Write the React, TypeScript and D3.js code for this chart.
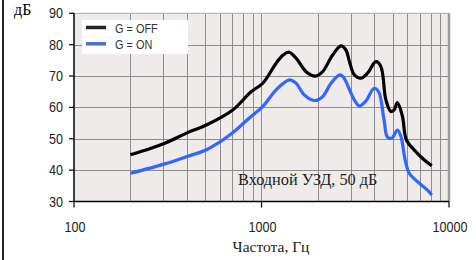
import React, { useRef, useEffect } from 'react';
import * as d3 from 'd3';

// frequencies (Hz) and levels (dB)
const offFreq = [200, 305, 398, 508, 703, 880, 1016, 1197, 1300, 1397, 1529, 1729, 1938, 2118, 2395, 2654, 2821, 2939, 3124, 3390, 3677, 4074, 4334, 4606, 4897, 5100, 5309, 5646, 5931, 6650, 7361, 8090];
const offDb = [44.9, 48.6, 51.8, 54.4, 59.2, 65.0, 67.7, 74.1, 76.6, 77.6, 75.7, 71.4, 70.0, 71.4, 76.7, 79.6, 78.3, 74.8, 70.4, 69.3, 70.9, 74.6, 73.0, 62.4, 58.7, 59.2, 61.5, 57.1, 49.6, 45.9, 43.3, 41.4];

const onFreq = [200, 305, 398, 508, 677, 861, 1016, 1197, 1409, 1529, 1690, 1916, 2118, 2348, 2622, 2760, 2939, 3124, 3328, 3593, 3987, 4214, 4505, 4694, 4953, 5309, 5542, 5836, 6140, 6926, 7656, 8090];
const onDb = [39.0, 42.0, 44.3, 46.5, 51.2, 56.6, 60.3, 65.6, 68.8, 67.7, 64.0, 62.2, 63.4, 67.7, 70.4, 69.3, 65.8, 62.4, 60.5, 61.9, 66.1, 65.0, 56.0, 50.5, 50.2, 52.8, 50.7, 43.3, 39.0, 35.9, 33.7, 32.1];

const seriesNames = ['G = OFF', 'G = ON'];
const yTicks = [30, 40, 50, 60, 70, 80, 90];
const xTicks = [100, 1000, 10000];

const App = () => {
  const svgRef = useRef(null);

  useEffect(() => {
    const width = 476;
    const height = 260;
    const left = 74, right = 449, top = 13.3, bottom = 201.5;
    const sans = '"Liberation Sans", Arial, sans-serif';
    const serif = '"Liberation Serif", "Times New Roman", serif';
    const squeeze = 0.84; // fake a narrow face

    const svg = d3.select(svgRef.current);
    svg.selectAll('*').remove();
    svg.attr('width', width).attr('height', height);

    svg.append('rect').attr('width', width).attr('height', height).attr('fill', '#fff');

    // frame line on the left edge
    svg.append('line')
      .attr('x1', 3).attr('x2', 3).attr('y1', 0).attr('y2', height)
      .attr('stroke', '#222').attr('stroke-width', 2);

    const x = d3.scaleLog().domain([100, 10000]).range([left, right]);
    const y = d3.scaleLinear().domain([30, 90]).range([bottom, top]);

    // plot area
    svg.append('rect')
      .attr('x', left).attr('y', top)
      .attr('width', right - left).attr('height', bottom - top)
      .attr('fill', '#eeebea');

    // grid
    const minor = x.ticks().filter(v => v > 100 && v < 10000);
    svg.append('g').selectAll('line').data(minor).join('line')
      .attr('x1', d => Math.round(x(d)) + 0.5).attr('x2', d => Math.round(x(d)) + 0.5)
      .attr('y1', top).attr('y2', bottom)
      .attr('stroke', '#8c8c8c').attr('stroke-width', 1);
    svg.append('g').selectAll('line').data(yTicks.filter(v => v > 30 && v < 90)).join('line')
      .attr('x1', left).attr('x2', right)
      .attr('y1', d => Math.round(y(d)) + 0.5).attr('y2', d => Math.round(y(d)) + 0.5)
      .attr('stroke', '#8c8c8c').attr('stroke-width', 1);

    // top and right border of plot
    svg.append('line')
      .attr('x1', left).attr('x2', right).attr('y1', top).attr('y2', top)
      .attr('stroke', '#a8a8a8').attr('stroke-width', 1);
    svg.append('line')
      .attr('x1', right).attr('x2', right).attr('y1', top).attr('y2', bottom)
      .attr('stroke', '#999').attr('stroke-width', 2.5);

    // axes
    const yAxis = svg.append('g');
    yAxis.append('line')
      .attr('x1', left).attr('x2', left).attr('y1', top).attr('y2', bottom)
      .attr('stroke', '#000').attr('stroke-width', 1.5);
    yAxis.selectAll('line.tick').data(yTicks).join('line')
      .attr('class', 'tick')
      .attr('x1', left - 5).attr('x2', left)
      .attr('y1', d => y(d)).attr('y2', d => y(d))
      .attr('stroke', '#000').attr('stroke-width', 1.2);
    yAxis.selectAll('text').data(yTicks).join('text')
      .attr('transform', d => `translate(63,${y(d) + 5}) scale(${squeeze},1)`)
      .attr('text-anchor', 'end')
      .attr('font-family', sans).attr('font-size', 15).attr('fill', '#222')
      .text(d => d);

    const xAxis = svg.append('g');
    xAxis.append('line')
      .attr('x1', left).attr('x2', right).attr('y1', bottom).attr('y2', bottom)
      .attr('stroke', '#000').attr('stroke-width', 1.5);
    xAxis.selectAll('line.tick').data(xTicks).join('line')
      .attr('class', 'tick')
      .attr('x1', d => x(d)).attr('x2', d => x(d))
      .attr('y1', bottom).attr('y2', bottom + 6)
      .attr('stroke', '#000').attr('stroke-width', 1.2);
    xAxis.selectAll('text').data(xTicks).join('text')
      .attr('transform', d => `translate(${x(d) + 1},232) scale(${squeeze},1)`)
      .attr('text-anchor', 'middle')
      .attr('font-family', sans).attr('font-size', 15).attr('fill', '#222')
      .text(d => d);

    // series
    const line = d3.line<[number, number]>()
      .x(d => x(d[0])).y(d => y(d[1]))
      .curve(d3.curveCatmullRom.alpha(0.5));

    const series = [
      { pts: offFreq.map((f, i) => [f, offDb[i]] as [number, number]), color: '#000' },
      { pts: onFreq.map((f, i) => [f, onDb[i]] as [number, number]), color: '#3366ff' },
    ];
    series.forEach(s => {
      svg.append('path')
        .datum(s.pts)
        .attr('d', line)
        .attr('fill', 'none')
        .attr('stroke', s.color)
        .attr('stroke-width', 3.2)
        .attr('stroke-linejoin', 'round');
    });

    // legend
    const lg = svg.append('g');
    lg.append('rect')
      .attr('x', 82).attr('y', 20).attr('width', 106).attr('height', 34)
      .attr('fill', '#fff');
    const legendColors = ['#222', '#4472c4'];
    seriesNames.forEach((name, i) => {
      const ly = 27.5 + i * 16.3;
      lg.append('line')
        .attr('x1', 86).attr('x2', 106).attr('y1', ly).attr('y2', ly)
        .attr('stroke', legendColors[i]).attr('stroke-width', 3.5);
      lg.append('text')
        .attr('transform', `translate(115,${ly + 5}) scale(${squeeze},1)`)
        .attr('font-family', sans).attr('font-size', 13).attr('fill', '#333')
        .text(name);
    });

    // annotations
    svg.append('text')
      .attr('x', 14).attr('y', 15)
      .attr('font-family', serif).attr('font-size', 16).attr('fill', '#000')
      .text('дБ');
    svg.append('text')
      .attr('x', 238).attr('y', 185)
      .attr('font-family', serif).attr('font-size', 16.3).attr('fill', '#222')
      .text('Входной УЗД, 50 дБ');
    svg.append('text')
      .attr('x', 271).attr('y', 252)
      .attr('text-anchor', 'middle')
      .attr('font-family', serif).attr('font-size', 15.5).attr('fill', '#222')
      .text('Частота, Гц');
  }, []);

  return <svg ref={svgRef} style={{ position: 'absolute', left: 0, top: 0 }}></svg>;
};

export default App;
